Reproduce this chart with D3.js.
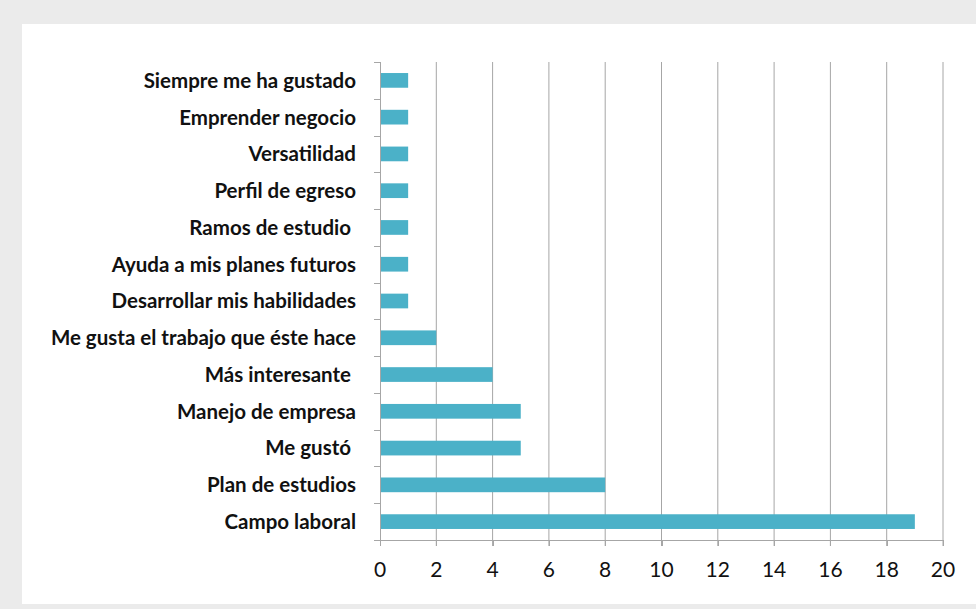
<!DOCTYPE html>
<html><head><meta charset="utf-8">
<script src="https://cdn.jsdelivr.net/npm/d3@7"></script>
<style>
body{margin:0;background:#ebebeb;}
svg{display:block;}
text{white-space:pre;}
</style></head>
<body>
<svg id="chart" width="976" height="609"></svg>
<script>
const categories = ["Siempre me ha gustado","Emprender negocio","Versatilidad","Perfil de egreso","Ramos de estudio ","Ayuda a mis planes futuros","Desarrollar mis habilidades","Me gusta el trabajo que éste hace","Más interesante ","Manejo de empresa","Me gustó ","Plan de estudios","Campo laboral"];
const values = [1,1,1,1,1,1,1,2,4,5,5,8,19];
const xTicks = [0,2,4,6,8,10,12,14,16,18,20];

const svg = d3.select("#chart");
svg.append("rect").attr("x",0).attr("y",0).attr("width",976).attr("height",609).attr("fill","#ebebeb");
svg.append("rect").attr("x",22).attr("y",24).attr("width",954).attr("height",580).attr("fill","#ffffff");

const x = d3.scaleLinear().domain([0,20]).range([380,943]);
const y = d3.scaleBand().domain(categories).range([62,540]).paddingInner(0.6).paddingOuter(0.3);

// gridlines
svg.append("g").selectAll("line").data(xTicks.slice(1)).join("line")
  .attr("x1",d=>x(d)).attr("x2",d=>x(d)).attr("y1",62).attr("y2",546)
  .attr("stroke","#a6a6a6").attr("stroke-width",1);

// bars
svg.append("g").selectAll("rect").data(values).join("rect")
  .attr("x",x(0)).attr("y",(d,i)=>y(categories[i]))
  .attr("width",d=>x(d)-x(0)).attr("height",y.bandwidth())
  .attr("fill","#4bb1c8");

// y axis line and ticks at boundaries
const step = (540-62)/categories.length;
const gy = svg.append("g");
gy.append("line").attr("x1",380.5).attr("x2",380.5).attr("y1",62).attr("y2",546).attr("stroke","#a6a6a6");
gy.selectAll("line.t").data(d3.range(categories.length+1)).join("line").attr("class","t")
  .attr("x1",374).attr("x2",380).attr("y1",i=>Math.round(62+i*step)+0.5).attr("y2",i=>Math.round(62+i*step)+0.5)
  .attr("stroke","#a6a6a6");
gy.selectAll("text").data(categories).join("text")
  .attr("x",356).attr("y",d=>y(d)+y.bandwidth()/2).attr("dy","0.36em")
  .attr("text-anchor","end").attr("font-family","Lato").attr("font-weight",700)
  .attr("font-size",20.5).attr("fill","#111").text(d=>d);

// x axis
const gx = svg.append("g");
gx.append("line").attr("x1",380).attr("x2",943).attr("y1",540.5).attr("y2",540.5).attr("stroke","#a6a6a6");
gx.selectAll("line.t").data(xTicks).join("line").attr("class","t")
  .attr("x1",d=>Math.round(x(d))+0.5).attr("x2",d=>Math.round(x(d))+0.5).attr("y1",540).attr("y2",546).attr("stroke","#a6a6a6");
gx.selectAll("text").data(xTicks).join("text")
  .attr("x",d=>x(d)).attr("y",577).attr("text-anchor","middle")
  .attr("font-family","Lato").attr("font-size",21).attr("fill","#111").text(d=>d);
</script>
</body></html>
